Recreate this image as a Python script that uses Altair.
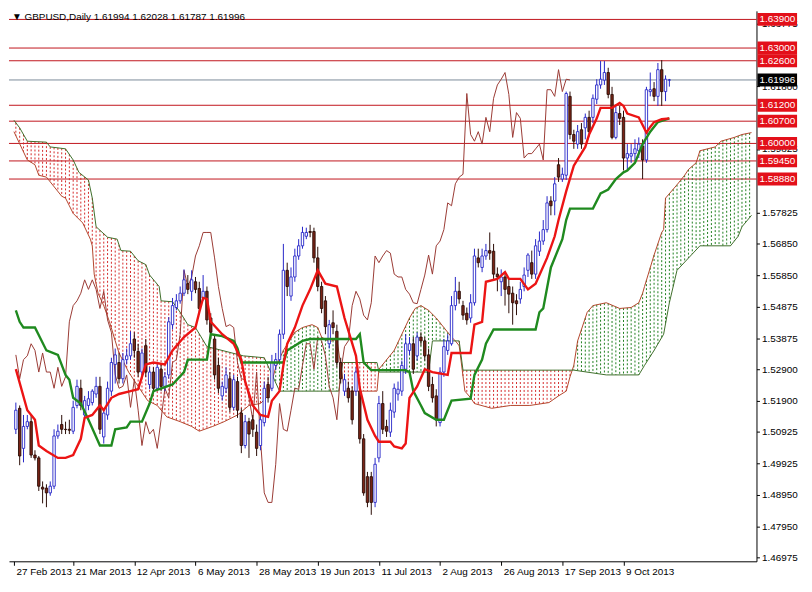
import altair as alt
import pandas as pd
import numpy as np

W, H = 755, 556

date_ticks = [-0.5, 15, 31, 47, 63, 79, 95, 111, 127, 143, 159]
date_labels = ["27 Feb 2013", "21 Mar 2013", "12 Apr 2013", "6 May 2013", "28 May 2013",
               "19 Jun 2013", "11 Jul 2013", "2 Aug 2013", "26 Aug 2013", "17 Sep 2013", "9 Oct 2013"]
price_ticks = [1.46975, 1.47950, 1.48950, 1.49925, 1.50925, 1.51900, 1.52900, 1.53875, 1.54875,
               1.55850, 1.56850, 1.57825, 1.59825, 1.61800, 1.63775]

levels = [1.6390, 1.6300, 1.6260, 1.6120, 1.6070, 1.6000, 1.5945, 1.5888]
level_labels = ["1.63900", "1.63000", "1.62600", "1.61200", "1.60700", "1.60000", "1.59450", "1.58880"]
current_price = 1.61996
title_text = "\u25BC GBPUSD,Daily  1.61994 1.62028 1.61787 1.61996"

opens = [1.5101, 1.5167, 1.5041, 1.5110, 1.5125, 1.5020, 1.5011, 1.4919, 1.4916, 1.4901,
         1.4922, 1.5080, 1.5116, 1.5101, 1.5101, 1.5095, 1.5176, 1.5230, 1.5146, 1.5176,
         1.5185, 1.5212, 1.5236, 1.5077, 1.5146, 1.5221, 1.5305, 1.5311, 1.5260, 1.5320,
         1.5332, 1.5385, 1.5346, 1.5281, 1.5364, 1.5242, 1.5281, 1.5230, 1.5290, 1.5236,
         1.5272, 1.5430, 1.5484, 1.5505, 1.5529, 1.5559, 1.5535, 1.5565, 1.5544, 1.5514,
         1.5535, 1.5451, 1.5385, 1.5302, 1.5206, 1.5230, 1.5260, 1.5170, 1.5251, 1.5152,
         1.5050, 1.5125, 1.5131, 1.5092, 1.5050, 1.5122, 1.5242, 1.5230, 1.5302, 1.5320,
         1.5400, 1.5601, 1.5520, 1.5580, 1.5646, 1.5678, 1.5708, 1.5723, 1.5723, 1.5640,
         1.5550, 1.5505, 1.5370, 1.5436, 1.5409, 1.5311, 1.5221, 1.5230, 1.5221, 1.5221,
         1.5221, 1.5071, 1.4952, 1.4952, 1.4871, 1.5011, 1.5182, 1.5110, 1.5092, 1.5155,
         1.5212, 1.5221, 1.5290, 1.5349, 1.5370, 1.5332, 1.5391, 1.5379, 1.5335, 1.5242,
         1.5206, 1.5122, 1.5281, 1.5349, 1.5370, 1.5490, 1.5535, 1.5490, 1.5466, 1.5451,
         1.5499, 1.5640, 1.5610, 1.5646, 1.5663, 1.5661, 1.5589, 1.5565, 1.5580, 1.5550,
         1.5529, 1.5505, 1.5511, 1.5550, 1.5601, 1.5625, 1.5589, 1.5661, 1.5693, 1.5729,
         1.5819, 1.5819, 1.5933, 1.5888, 1.5900, 1.6148, 1.6028, 1.5998, 1.6043, 1.6049,
         1.6082, 1.6082, 1.6139, 1.6184, 1.6199, 1.6223, 1.6154, 1.6019, 1.6094, 1.6082,
         1.5954, 1.5960, 1.5968, 1.5977, 1.5992, 1.5948, 1.6163, 1.6172, 1.6148, 1.6232,
         1.6163, 1.61994]
highs = [1.5185, 1.5176, 1.5146, 1.5146, 1.5146, 1.5035, 1.5017, 1.4937, 1.4928, 1.4937,
         1.5101, 1.5116, 1.5146, 1.5125, 1.5131, 1.5191, 1.5257, 1.5257, 1.5206, 1.5221,
         1.5227, 1.5266, 1.5266, 1.5161, 1.5251, 1.5326, 1.5355, 1.5341, 1.5341, 1.5355,
         1.5409, 1.5406, 1.5370, 1.5355, 1.5385, 1.5296, 1.5296, 1.5305, 1.5305, 1.5281,
         1.5454, 1.5514, 1.5526, 1.5550, 1.5604, 1.5586, 1.5601, 1.5580, 1.5565, 1.5586,
         1.5550, 1.5466, 1.5400, 1.5326, 1.5251, 1.5296, 1.5281, 1.5272, 1.5266, 1.5167,
         1.5146, 1.5137, 1.5146, 1.5116, 1.5146, 1.5251, 1.5266, 1.5335, 1.5341, 1.5415,
         1.5684, 1.5625, 1.5610, 1.5669, 1.5699, 1.5738, 1.5735, 1.5744, 1.5735, 1.5675,
         1.5565, 1.5520, 1.5445, 1.5475, 1.5430, 1.5326, 1.5275, 1.5251, 1.5236, 1.5296,
         1.5236, 1.5086, 1.4967, 1.4967, 1.5011, 1.5206, 1.5221, 1.5131, 1.5185, 1.5245,
         1.5251, 1.5317, 1.5400, 1.5391, 1.5391, 1.5406, 1.5406, 1.5391, 1.5355, 1.5266,
         1.5227, 1.5296, 1.5385, 1.5400, 1.5520, 1.5580, 1.5565, 1.5505, 1.5484, 1.5526,
         1.5669, 1.5669, 1.5669, 1.5684, 1.5720, 1.5684, 1.5610, 1.5604, 1.5595, 1.5574,
         1.5550, 1.5526, 1.5565, 1.5610, 1.5655, 1.5663, 1.5699, 1.5723, 1.5759, 1.5834,
         1.5834, 1.5894, 1.5954, 1.5924, 1.6163, 1.6163, 1.6043, 1.6058, 1.6064, 1.6094,
         1.6103, 1.6154, 1.6202, 1.6259, 1.6259, 1.6238, 1.6178, 1.6118, 1.6118, 1.6103,
         1.5998, 1.5998, 1.6013, 1.6019, 1.6013, 1.6178, 1.6223, 1.6193, 1.6253, 1.6262,
         1.6214, 1.62028]
lows = [1.5086, 1.4988, 1.4997, 1.5101, 1.5011, 1.5003, 1.4907, 1.4868, 1.4856, 1.4892,
        1.4913, 1.5071, 1.5086, 1.5086, 1.5086, 1.5086, 1.5167, 1.5161, 1.5137, 1.5161,
        1.5176, 1.5200, 1.5086, 1.5056, 1.5131, 1.5206, 1.5245, 1.5245, 1.5245, 1.5305,
        1.5320, 1.5326, 1.5266, 1.5266, 1.5266, 1.5227, 1.5221, 1.5221, 1.5221, 1.5221,
        1.5260, 1.5415, 1.5475, 1.5496, 1.5520, 1.5526, 1.5505, 1.5529, 1.5466, 1.5505,
        1.5430, 1.5385, 1.5257, 1.5215, 1.5191, 1.5215, 1.5155, 1.5161, 1.5137, 1.5026,
        1.5041, 1.5011, 1.5077, 1.5017, 1.5035, 1.5110, 1.5185, 1.5221, 1.5287, 1.5311,
        1.5385, 1.5520, 1.5505, 1.5565, 1.5634, 1.5669, 1.5699, 1.5705, 1.5625, 1.5535,
        1.5466, 1.5400, 1.5355, 1.5400, 1.5296, 1.5245, 1.5206, 1.5185, 1.5116, 1.5206,
        1.5056, 1.4892, 1.4856, 1.4832, 1.4856, 1.4997, 1.5086, 1.5077, 1.5077, 1.5137,
        1.5191, 1.5206, 1.5275, 1.5335, 1.5275, 1.5317, 1.5364, 1.5317, 1.5221, 1.5185,
        1.5110, 1.5110, 1.5266, 1.5335, 1.5364, 1.5475, 1.5496, 1.5445, 1.5430, 1.5436,
        1.5490, 1.5610, 1.5595, 1.5634, 1.5634, 1.5574, 1.5535, 1.5520, 1.5490, 1.5466,
        1.5430, 1.5460, 1.5496, 1.5535, 1.5580, 1.5574, 1.5574, 1.5646, 1.5681, 1.5720,
        1.5774, 1.5774, 1.5879, 1.5879, 1.5885, 1.6013, 1.5983, 1.5983, 1.5983, 1.6013,
        1.6022, 1.6064, 1.6124, 1.6172, 1.6184, 1.6142, 1.6013, 1.6013, 1.6058, 1.5915,
        1.5915, 1.5939, 1.5945, 1.5954, 1.5888, 1.5939, 1.6148, 1.6133, 1.6118, 1.6118,
        1.6133, 1.61787]
closes = [1.5161, 1.5017, 1.5110, 1.5125, 1.5020, 1.5011, 1.4922, 1.4913, 1.4901, 1.4922,
          1.5080, 1.5095, 1.5101, 1.5100, 1.5098, 1.5170, 1.5236, 1.5176, 1.5191, 1.5197,
          1.5221, 1.5236, 1.5101, 1.5152, 1.5230, 1.5311, 1.5335, 1.5260, 1.5320, 1.5332,
          1.5370, 1.5349, 1.5281, 1.5341, 1.5281, 1.5281, 1.5230, 1.5296, 1.5236, 1.5266,
          1.5439, 1.5490, 1.5505, 1.5529, 1.5571, 1.5541, 1.5571, 1.5541, 1.5481, 1.5535,
          1.5445, 1.5406, 1.5272, 1.5230, 1.5236, 1.5272, 1.5170, 1.5257, 1.5161, 1.5050,
          1.5125, 1.5086, 1.5101, 1.5041, 1.5131, 1.5230, 1.5200, 1.5311, 1.5320, 1.5400,
          1.5601, 1.5550, 1.5580, 1.5646, 1.5678, 1.5720, 1.5720, 1.5720, 1.5640, 1.5550,
          1.5481, 1.5424, 1.5430, 1.5421, 1.5311, 1.5260, 1.5257, 1.5200, 1.5131, 1.5281,
          1.5071, 1.4901, 1.4871, 1.4871, 1.4991, 1.5182, 1.5101, 1.5095, 1.5161, 1.5230,
          1.5227, 1.5302, 1.5370, 1.5370, 1.5290, 1.5391, 1.5379, 1.5332, 1.5236, 1.5200,
          1.5131, 1.5281, 1.5361, 1.5379, 1.5490, 1.5535, 1.5511, 1.5460, 1.5445, 1.5499,
          1.5646, 1.5625, 1.5646, 1.5663, 1.5655, 1.5589, 1.5580, 1.5580, 1.5541, 1.5526,
          1.5499, 1.5496, 1.5541, 1.5586, 1.5649, 1.5589, 1.5678, 1.5693, 1.5729, 1.5813,
          1.5804, 1.5873, 1.5894, 1.5903, 1.6157, 1.6028, 1.6007, 1.6037, 1.5998, 1.6082,
          1.6037, 1.6142, 1.6184, 1.6202, 1.6223, 1.6154, 1.6019, 1.6097, 1.6079, 1.5954,
          1.5968, 1.5968, 1.5983, 1.5998, 1.5948, 1.6169, 1.6169, 1.6148, 1.6232, 1.6163,
          1.6202, 1.61996]

tenkan = [(0, 1.5290), (3, 1.5161), (5, 1.5131), (6, 1.5050), (8, 1.5033), (11, 1.5011), (13, 1.5011),
          (15, 1.5020), (17, 1.5071), (18, 1.5137), (20, 1.5146), (22, 1.5176), (23, 1.5161), (25, 1.5200),
          (27, 1.5212), (30, 1.5221), (32, 1.5227), (34, 1.5305), (36, 1.5311), (39, 1.5305), (41, 1.5349),
          (44, 1.5391), (47, 1.5421), (48, 1.5469), (49, 1.5514), (50, 1.5511), (51, 1.5439), (54, 1.5400),
          (57, 1.5370), (59, 1.5320), (60, 1.5251), (62, 1.5176), (64, 1.5146), (66, 1.5140), (67, 1.5191),
          (69, 1.5221), (70, 1.5302), (71, 1.5370), (73, 1.5421), (75, 1.5490), (77, 1.5541), (79, 1.5601),
          (81, 1.5559), (84, 1.5550), (86, 1.5451), (89, 1.5332), (90, 1.5230), (92, 1.5131), (94, 1.5080),
          (95, 1.5062), (98, 1.5062), (99, 1.5047), (101, 1.5041), (102, 1.5056), (103, 1.5200), (105, 1.5236),
          (107, 1.5290), (109, 1.5281), (113, 1.5272), (114, 1.5341), (119, 1.5341), (120, 1.5430),
          (122, 1.5439), (123, 1.5565), (126, 1.5574), (128, 1.5595), (129, 1.5574), (132, 1.5574),
          (134, 1.5541), (136, 1.5559), (139, 1.5640), (141, 1.5708), (142, 1.5759), (144, 1.5849),
          (146, 1.5930), (149, 1.5989), (150, 1.6028), (152, 1.6079), (153, 1.6112), (156, 1.6112),
          (158, 1.6127), (159, 1.6118), (160, 1.6094), (163, 1.6082), (164, 1.6058), (165, 1.6034),
          (166, 1.6052), (167, 1.6067), (169, 1.6076), (171, 1.6079)]
kijun = [(0, 1.5475), (1, 1.5439), (2, 1.5421), (5, 1.5421), (8, 1.5349), (11, 1.5335), (13, 1.5272),
         (14, 1.5257), (15, 1.5200), (17, 1.5182), (19, 1.5131), (22, 1.5050), (25, 1.5050), (26, 1.5101),
         (29, 1.5107), (30, 1.5125), (33, 1.5125), (35, 1.5182), (36, 1.5221), (41, 1.5242), (44, 1.5281),
         (45, 1.5320), (50, 1.5320), (51, 1.5400), (54, 1.5394), (57, 1.5379), (58, 1.5355), (59, 1.5311),
         (70, 1.5311), (71, 1.5349), (75, 1.5379), (77, 1.5385), (89, 1.5385), (90, 1.5400), (91, 1.5311),
         (93, 1.5287), (102, 1.5287), (103, 1.5281), (104, 1.5221), (106, 1.5176), (107, 1.5152),
         (110, 1.5131), (112, 1.5131), (114, 1.5191), (119, 1.5197), (120, 1.5272), (122, 1.5320),
         (123, 1.5370), (125, 1.5415), (136, 1.5415), (137, 1.5469), (138, 1.5481), (140, 1.5610),
         (143, 1.5699), (144, 1.5759), (145, 1.5795), (151, 1.5795), (153, 1.5843), (155, 1.5855),
         (157, 1.5888), (159, 1.5909), (160, 1.5915), (162, 1.5939), (164, 1.5998), (166, 1.6037),
         (168, 1.6067), (171, 1.6079)]
span_a = [(-0.5, 1.6037), (3, 1.5948), (5, 1.5933), (6, 1.5900), (8, 1.5894), (12, 1.5834), (13, 1.5828),
          (14, 1.5804), (15, 1.5780), (17.5, 1.5750), (19.5, 1.5699), (20, 1.5678), (20.5, 1.5589),
          (21, 1.5559), (21.5, 1.5529), (23, 1.5490), (24.5, 1.5439), (26, 1.5379), (27, 1.5341),
          (29.5, 1.5281), (32, 1.5236), (34.5, 1.5191), (37, 1.5176), (39.5, 1.5140), (43, 1.5125),
          (46, 1.5110), (48, 1.5095), (51.5, 1.5110), (54.5, 1.5125), (58, 1.5146), (61, 1.5176),
          (64, 1.5182), (66, 1.5206), (68, 1.5296), (70, 1.5349), (73, 1.5406), (75, 1.5421),
          (77.5, 1.5430), (79, 1.5421), (80, 1.5391), (82, 1.5376), (84, 1.5385), (86, 1.5221),
          (94.5, 1.5221), (95, 1.5290), (99, 1.5349), (101, 1.5400), (103, 1.5451), (104.5, 1.5481),
          (106, 1.5490), (108, 1.5475), (110, 1.5451), (112, 1.5421), (114, 1.5391), (115, 1.5379),
          (116, 1.5364), (117.5, 1.5221), (119, 1.5200), (120, 1.5182), (124.5, 1.5167), (129.5, 1.5176),
          (134.5, 1.5176), (139.5, 1.5185), (142, 1.5206), (144, 1.5221), (145, 1.5266), (146, 1.5302),
          (147, 1.5379), (149.5, 1.5469), (151, 1.5490), (154.5, 1.5499), (158, 1.5481), (161, 1.5484),
          (163, 1.5499), (164, 1.5529), (164.5, 1.5550), (167, 1.5649), (169, 1.5720), (169.5, 1.5729),
          (170, 1.5828), (173, 1.5870), (175, 1.5900), (176, 1.5918), (178, 1.5939), (179, 1.5977),
          (183, 1.5989), (184.5, 1.6007), (188, 1.6019), (190, 1.6028), (192.5, 1.6034)]
span_b = [(-0.5, 1.6073), (1, 1.6049), (3, 1.6007), (8, 1.6004), (9, 1.5989), (13, 1.5983), (15, 1.5948),
          (16.5, 1.5909), (19, 1.5885), (20, 1.5828), (21, 1.5738), (24, 1.5705), (26.5, 1.5699),
          (27.5, 1.5663), (30, 1.5661), (32, 1.5631), (34, 1.5619), (35, 1.5586), (37.5, 1.5550),
          (38, 1.5505), (41, 1.5502), (43, 1.5469), (45, 1.5430), (47, 1.5421), (50, 1.5361),
          (52, 1.5355), (59.5, 1.5332), (65, 1.5326), (69, 1.5221), (84.5, 1.5221), (85.5, 1.5311),
          (94.5, 1.5311), (95, 1.5281), (108, 1.5281), (109, 1.5379), (116, 1.5379), (117, 1.5287),
          (146, 1.5287), (154.5, 1.5272), (163, 1.5272), (164.5, 1.5302), (167, 1.5349), (169.5, 1.5400),
          (171, 1.5499), (173, 1.5601), (179, 1.5678), (187, 1.5678), (189, 1.5708), (190, 1.5738),
          (192.5, 1.5774)]

# ---------------- frames ----------------
bars = pd.DataFrame({"k": np.arange(len(opens)), "o": opens, "h": highs, "l": lows, "c": closes})
bull = bars[bars.c >= bars.o]
bear = bars[bars.c < bars.o]

chikou = pd.DataFrame({"k": np.arange(len(closes) - 26), "v": closes[26:]})
tenkan_df = pd.DataFrame(tenkan, columns=["k", "v"])
kijun_df = pd.DataFrame(kijun, columns=["k", "v"])
a_df = pd.DataFrame(span_a, columns=["k", "v"])
b_df = pd.DataFrame(span_b, columns=["k", "v"])

# cloud hatch: one dotted vertical line per bar between the two spans
kk = np.arange(0, 193)
aa = np.interp(kk, a_df.k, a_df.v)
bb = np.interp(kk, b_df.k, b_df.v)
cloud = pd.DataFrame({"k": kk, "hi": np.maximum(aa, bb), "lo": np.minimum(aa, bb),
                      "col": np.where(bb > aa, "#d42a2a", "#1f7f1f")})

lv = pd.DataFrame({"v": levels, "t": level_labels, "c": "#e3101a"})
cur = pd.DataFrame({"v": [current_price], "t": ["1.61996"], "c": ["#000000"]})
boxes = pd.concat([lv, cur], ignore_index=True)
title_df = pd.DataFrame({"t": [title_text]})

# ---------------- scales / axes ----------------
xs = alt.Scale(domain=[-0.5, 192.5], nice=False, zero=False)
ys = alt.Scale(domain=[1.46858, 1.6417], nice=False, zero=False)
label_expr = ("[" + ",".join("'%s'" % s for s in date_labels) + "][indexof(["
              + ",".join(str(v) for v in date_ticks) + "], datum.value)]")
xaxis = alt.Axis(values=date_ticks, labelExpr=label_expr, orient="bottom", title=None, grid=False,
                 tickSize=4, tickColor="black", domainColor="black", labelAlign="left", labelPadding=1,
                 labelOffset=2, labelFontSize=10, labelFont="Liberation Sans", labelColor="black",
                 labelFlush=False, labelOverlap=False)
yaxis = alt.Axis(values=price_ticks, format=".5f", orient="right", title=None, grid=False, tickSize=3,
                 tickColor="black", domainColor="black", labelPadding=2, labelFontSize=10,
                 labelFont="Liberation Sans", labelColor="black", labelFlush=False, labelOverlap=False)


def X(f):
    return alt.X(f, type="quantitative", scale=xs, axis=xaxis)


def Y(f):
    return alt.Y(f, type="quantitative", scale=ys, axis=yaxis)


layers = []
layers.append(alt.Chart(lv).mark_rule(color="#c0141c", strokeWidth=1).encode(y=Y("v")))
layers.append(alt.Chart(cur).mark_rule(color="#7a8a99", strokeWidth=1).encode(y=Y("v")))
layers.append(alt.Chart(cloud).mark_rule(strokeDash=[2, 2], strokeWidth=1).encode(
    x=X("k"), y=Y("hi"), y2=alt.Y2("lo"), color=alt.Color("col:N", scale=None)))
layers.append(alt.Chart(a_df).mark_line(color="#b3452c", strokeWidth=1).encode(x=X("k"), y=Y("v")))
layers.append(alt.Chart(b_df).mark_line(color="#3f6e2a", strokeWidth=1).encode(x=X("k"), y=Y("v")))
layers.append(alt.Chart(chikou).mark_line(color="#9a3a34", strokeWidth=1).encode(x=X("k"), y=Y("v")))
layers.append(alt.Chart(bull).mark_rule(color="#2424c8", strokeWidth=1).encode(
    x=X("k"), y=Y("h"), y2=alt.Y2("l")))
layers.append(alt.Chart(bear).mark_rule(color="#2a0c06", strokeWidth=1).encode(
    x=X("k"), y=Y("h"), y2=alt.Y2("l")))
layers.append(alt.Chart(bull).mark_bar(size=2.4, fill="white", stroke="#2424c8", strokeWidth=0.9).encode(
    x=X("k"), y=Y("o"), y2=alt.Y2("c")))
layers.append(alt.Chart(bear).mark_bar(size=2.4, fill="#7a2416", stroke="#2a0c06", strokeWidth=0.9).encode(
    x=X("k"), y=Y("o"), y2=alt.Y2("c")))
layers.append(alt.Chart(kijun_df).mark_line(color="#1f8a1f", strokeWidth=2.4).encode(x=X("k"), y=Y("v")))
layers.append(alt.Chart(tenkan_df).mark_line(color="#ec1414", strokeWidth=2.4).encode(x=X("k"), y=Y("v")))
layers.append(alt.Chart(boxes).mark_rule(strokeWidth=13, strokeCap="butt").encode(
    x=alt.value(W + 1), x2=alt.value(W + 41), y=Y("v"), color=alt.Color("c:N", scale=None)))
layers.append(alt.Chart(boxes).mark_text(align="left", baseline="middle", fontSize=10,
                                         font="Liberation Sans", color="white").encode(
    x=alt.value(W + 3), y=Y("v"), text="t:N"))
layers.append(alt.Chart(title_df).mark_text(align="left", baseline="middle", fontSize=10,
                                            font="Liberation Sans", color="black").encode(
    x=alt.value(3), y=alt.value(6), text="t:N"))

chart = alt.layer(*layers).properties(width=W, height=H, padding=0).configure_view(stroke=None)
chart.save("out.html", embed_options={"renderer": "svg", "actions": False})
